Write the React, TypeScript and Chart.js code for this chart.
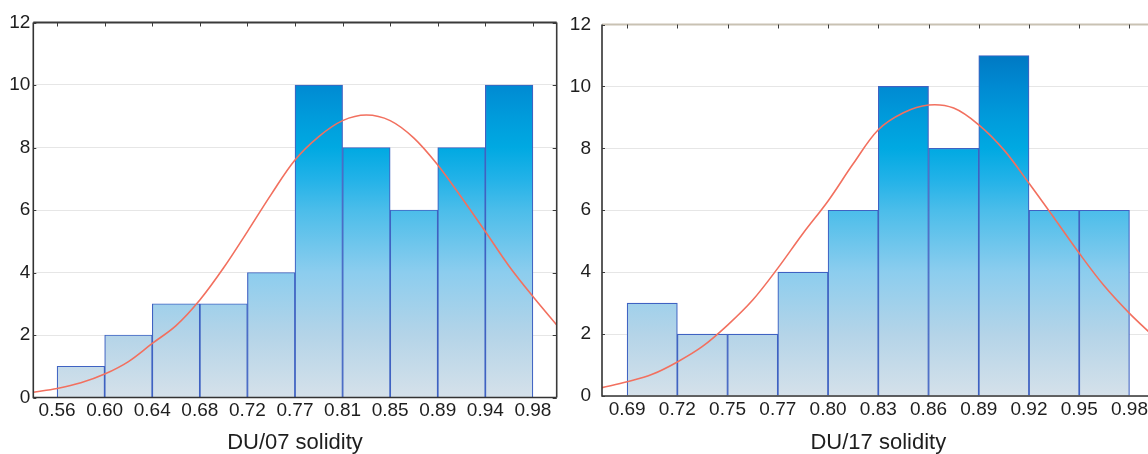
import { useEffect, useRef } from "react";
import { Chart, registerables } from "chart.js";

Chart.register(...registerables);

// ---- data ----
const yTicks = [0, 2, 4, 6, 8, 10, 12];

// DU/07
const edges07 = ["0.56", "0.60", "0.64", "0.68", "0.72", "0.77", "0.81", "0.85", "0.89", "0.94", "0.98"];
const counts07 = [1, 2, 3, 3, 4, 10, 8, 6, 8, 10];
const curveAt = [-0.5, 0, 0.5, 1, 1.5, 2, 2.5, 3, 3.5, 4, 4.5, 5, 5.5, 6, 6.5, 7, 7.5, 8, 8.5, 9, 9.5, 10, 10.5];
const curve07 = [0.17, 0.29, 0.47, 0.75, 1.15, 1.73, 2.3, 3.12, 4.15, 5.31, 6.5, 7.6, 8.35, 8.86, 9.04, 8.86, 8.3, 7.44, 6.4, 5.31, 4.2, 3.23, 2.32];

// DU/17
const edges17 = ["0.69", "0.72", "0.75", "0.77", "0.80", "0.83", "0.86", "0.89", "0.92", "0.95", "0.98"];
const counts17 = [3, 2, 2, 4, 6, 10, 8, 11, 6, 6];
const curve17 = [0.27, 0.46, 0.7, 1.1, 1.6, 2.29, 3.1, 4.13, 5.25, 6.3, 7.5, 8.6, 9.15, 9.4, 9.3, 8.76, 7.95, 6.87, 5.75, 4.61, 3.55, 2.67, 1.9];

// ---- styles ----
const FONT = "'Liberation Sans', Arial, Helvetica, sans-serif";
const TEXT = "#1e1e1e";
const gradientStops: [number, string][] = [
  [0, "#d5e1ea"],
  [2 / 12, "#b4d4e8"],
  [4 / 12, "#8ccdee"],
  [6 / 12, "#4bbdea"],
  [7 / 12, "#22b2e8"],
  [8 / 12, "#00a9e2"],
  [9 / 12, "#009bdb"],
  [10 / 12, "#008ad2"],
  [11 / 12, "#0079c3"],
  [1, "#006cb8"],
];

const framePlugin = {
  id: "frame",
  afterDraw(chart: any, _args: any, opts: any) {
    const { ctx, chartArea, scales } = chart;
    const { left, right, top, bottom } = chartArea;
    const x = scales.x;
    const y = scales.y;
    ctx.save();
    // border lines
    ctx.lineWidth = 2;
    ctx.strokeStyle = opts.topColor;
    ctx.beginPath();
    ctx.moveTo(left, top);
    ctx.lineTo(right, top);
    ctx.stroke();
    ctx.lineWidth = 1.6;
    ctx.strokeStyle = opts.rightColor;
    ctx.beginPath();
    ctx.moveTo(right, top);
    ctx.lineTo(right, bottom);
    ctx.stroke();
    ctx.strokeStyle = "#333333";
    ctx.beginPath();
    ctx.moveTo(left, top);
    ctx.lineTo(left, bottom);
    ctx.lineTo(right, bottom);
    ctx.stroke();
    // inward tick marks
    ctx.strokeStyle = "#3a3a3a";
    ctx.lineWidth = 1;
    ctx.beginPath();
    for (let i = 0; i < opts.nEdges; i++) {
      const px = Math.round(x.getPixelForValue(i)) + 0.5;
      ctx.moveTo(px, top);
      ctx.lineTo(px, top + 4);
    }
    for (const v of yTicks) {
      const py = Math.round(y.getPixelForValue(v)) + 0.5;
      ctx.moveTo(left, py);
      ctx.lineTo(left + 3, py);
      ctx.moveTo(right, py);
      ctx.lineTo(right - 4, py);
    }
    ctx.stroke();
    ctx.restore();
  },
};

type HistProps = {
  left: number;
  width: number;
  edges: string[];
  counts: number[];
  curve: number[];
  title: string;
  axisW: number;
  padRight: number;
  padTop: number;
  xAxisH: number;
  yLabelPad: number;
  topColor: string;
  rightColor: string;
};

function Histogram(p: HistProps) {
  const ref = useRef<HTMLCanvasElement>(null);
  useEffect(() => {
    if (!ref.current) return;
    const font = { family: FONT, size: 19 };
    const chart = new Chart(ref.current, {
      type: "bar",
      data: {
        datasets: [
          {
            type: "line",
            data: curveAt.map((x, i) => ({ x, y: p.curve[i] })),
            borderColor: "#f2705f",
            borderWidth: 1.6,
            pointRadius: 0,
            tension: 0.35,
            fill: false,
            order: 0,
          } as any,
          {
            type: "bar",
            data: p.counts.map((v, i) => ({ x: i + 0.5, y: v })),
            backgroundColor: (c: any) => {
              const ch = c.chart;
              if (!ch.chartArea) return "#8ccdee";
              const y0 = ch.scales.y.getPixelForValue(0);
              const y1 = ch.scales.y.getPixelForValue(12);
              const g = ch.ctx.createLinearGradient(0, y0, 0, y1);
              for (const [f, col] of gradientStops) g.addColorStop(f, col);
              return g;
            },
            borderColor: "#3f62c2",
            borderWidth: 1.2,
            barPercentage: 1,
            categoryPercentage: 1,
            order: 1,
          } as any,
        ],
      },
      options: {
        animation: false,
        responsive: false,
        maintainAspectRatio: false,
        layout: { padding: { left: 0, right: p.padRight, top: p.padTop, bottom: 0 } },
        plugins: {
          legend: { display: false },
          tooltip: { enabled: false },
          frame: { nEdges: p.edges.length, topColor: p.topColor, rightColor: p.rightColor },
        } as any,
        scales: {
          x: {
            type: "linear",
            offset: false,
            min: -0.5,
            max: p.edges.length - 0.5,
            afterBuildTicks: (s: any) => {
              s.ticks = p.edges.map((_, i) => ({ value: i }));
            },
            afterFit: (s: any) => {
              s.height = p.xAxisH;
            },
            ticks: {
              autoSkip: false,
              maxRotation: 0,
              padding: 2,
              color: TEXT,
              font,
              callback: (_v: any, i: number) => p.edges[i],
            },
            grid: { display: false, drawTicks: false },
            border: { display: false },
            title: {
              display: true,
              text: p.title,
              color: TEXT,
              font: { family: FONT, size: 22, lineHeight: 1 },
              padding: { top: 0, bottom: 0 },
            },
          },
          y: {
            min: 0,
            max: 12,
            afterBuildTicks: (s: any) => {
              s.ticks = yTicks.map((v) => ({ value: v }));
            },
            afterFit: (s: any) => {
              s.width = p.axisW;
            },
            ticks: { padding: p.yLabelPad, color: TEXT, font },
            grid: { color: "#e6e6e6", lineWidth: 1, drawTicks: false },
            border: { display: false },
          },
        },
      } as any,
      plugins: [framePlugin as any],
    });
    return () => chart.destroy();
  }, []);
  return (
    <canvas
      ref={ref}
      width={p.width}
      height={454}
      style={{ position: "absolute", left: p.left, top: 0, width: p.width, height: 454, display: "block" }}
    />
  );
}

export default function App() {
  return (
    <div
      style={{
        position: "fixed",
        left: 0,
        top: 0,
        width: 1148,
        height: 454,
        overflow: "hidden",
        background: "#ffffff",
      }}
    >
      <Histogram
        left={0}
        width={575}
        edges={edges07}
        counts={counts07}
        curve={curve07}
        title="DU/07 solidity"
        axisW={33.3}
        padRight={18.3}
        padTop={22.5}
        xAxisH={56.5}
        yLabelPad={3}
        topColor="#3a3a3a"
        rightColor="#3a3a3a"
      />
      <Histogram
        left={560}
        width={620}
        edges={edges17}
        counts={counts17}
        curve={curve17}
        title="DU/17 solidity"
        axisW={42}
        padRight={25.4}
        padTop={24.5}
        xAxisH={58}
        yLabelPad={11}
        topColor="#c9c2b3"
        rightColor="#3a3a3a"
      />
    </div>
  );
}
